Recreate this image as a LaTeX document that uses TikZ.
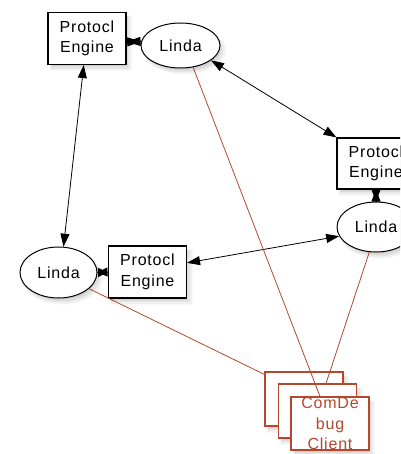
\documentclass[tikz,border=0pt]{standalone}
\usepackage{fontspec}
\setmainfont[LetterSpace=5]{Liberation Sans}
\usetikzlibrary{arrows.meta,shadows,shapes.geometric}
\definecolor{rust}{RGB}{180,72,45}
\newcommand\nfont{\fontsize{16}{20.5}\selectfont}
\begin{document}
\begin{tikzpicture}[x=1pt,y=-1pt,
  >={Triangle[length=13pt,width=9pt]},
  fz/.style={drop shadow={shadow xshift=3.5pt,shadow yshift=-4.5pt,opacity=0.05,shadow scale=1.07},
             drop shadow={shadow xshift=3.5pt,shadow yshift=-4.5pt,opacity=0.07,shadow scale=1.04},
             drop shadow={shadow xshift=3pt,shadow yshift=-4pt,opacity=0.09,shadow scale=1.01},
             drop shadow={shadow xshift=2.5pt,shadow yshift=-3.5pt,opacity=0.1,shadow scale=0.98},
             drop shadow={shadow xshift=2pt,shadow yshift=-3pt,opacity=0.12,shadow scale=0.95}},
  pe/.style={draw=black,line width=1.1pt,fill=white,fz,minimum width=78pt,minimum height=52pt,inner sep=0pt,align=center,font=\nfont},
  linda/.style={ellipse,draw=black,line width=1pt,fill=white,fz,inner sep=0pt,font=\nfont},
  cdb/.style={draw=rust,line width=1.1pt,fill=white,fz,minimum width=78pt,minimum height=54pt,inner sep=0pt,align=center,font=\nfont,text=rust},
  link/.style={<->,line width=0.8pt},
  half/.style={-{Triangle[length=#1,width=9pt]},line width=0.8pt},
  redline/.style={draw=rust,line width=0.8pt}]
\useasboundingbox (0,0) rectangle (400,454);
\clip (0,0) rectangle (400,454);
\node[pe] (tpe) at (87,38.5) {Protocl\\Engine};
\node[linda,minimum width=79pt,minimum height=45pt] (tl) at (180.5,45.5) {Linda};
\node[pe,minimum height=51pt] (rpe) at (376,163.5) {Protocl\\Engine};
\node[linda,minimum width=78pt,minimum height=50pt] (rli) at (376,227) {Linda};
\node[linda,minimum width=77pt,minimum height=51pt] (lli) at (58.5,272.5) {Linda};
\node[pe] (bpe) at (147.5,272) {Protocl\\Engine};
\node[cdb] (cb) at (304,399) {};
\node[cdb] (cm) at (317.5,411) {};
\node[cdb,minimum height=53pt] (cf) at (330,423.5) {ComDe\\bug\\Client};
\draw[half=14pt] (tl.174) -- (tpe.355);
\draw[half=14pt] (tpe.355) -- (tl.174);
\draw[half=12pt] (rli.north) -- (rpe.south);
\draw[half=12pt] (rpe.south) -- (rli.north);
\draw[half=10pt] (bpe.west) -- (lli.east);
\draw[half=10pt] (lli.east) -- (bpe.west);
\draw[link] (tpe.263) -- (lli.79);
\draw[link] (tl.334) -- (rpe.north west);
\draw[link] (bpe.13) -- (rli.194);
\draw[redline] (tl.300) -- ([xshift=-10pt]cf.north);
\draw[redline] (rli.255) -- ([xshift=8.5pt]cm.north);
\draw[redline] (lli.332) -- ([yshift=-3pt]cb.north west);
\end{tikzpicture}
\end{document}
